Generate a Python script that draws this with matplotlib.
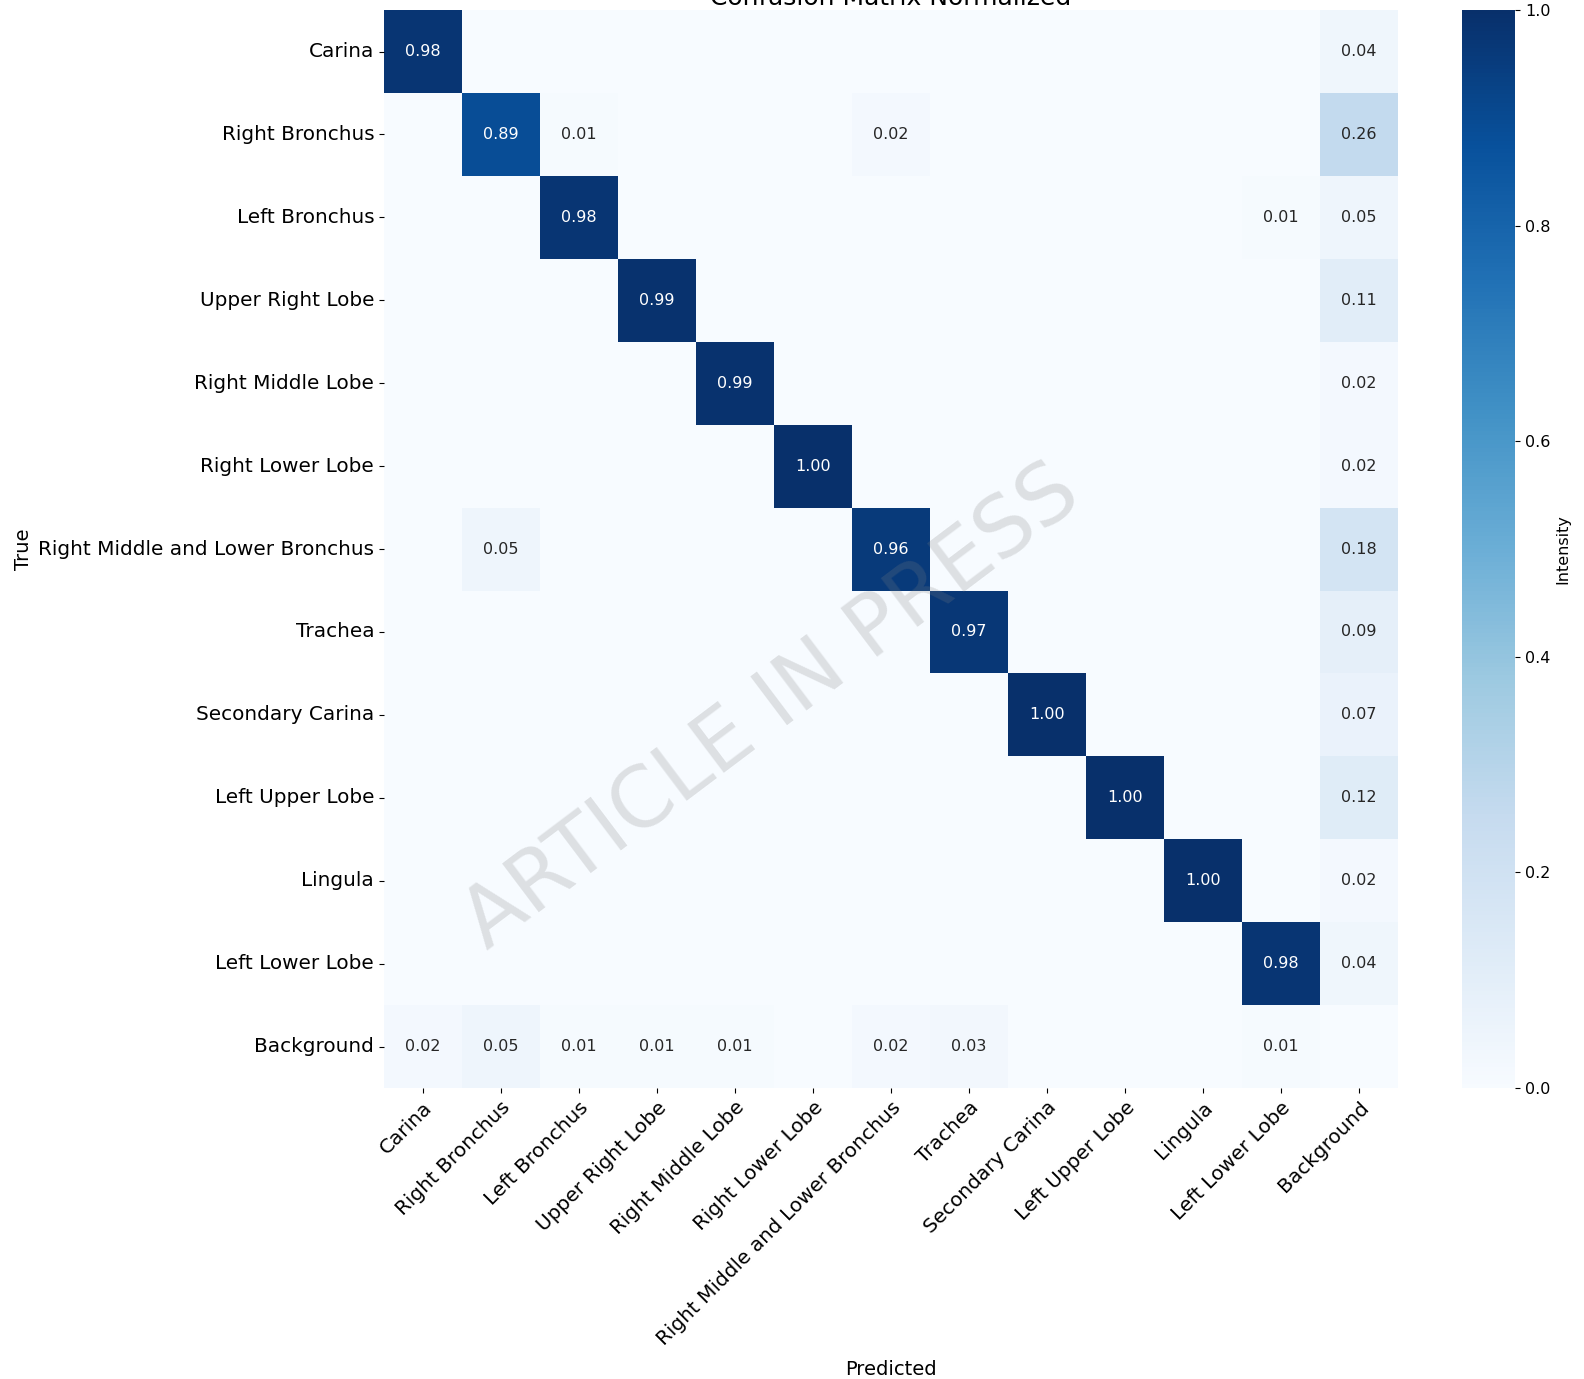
import matplotlib
matplotlib.use("Agg")
import matplotlib.pyplot as plt
import numpy as np
import seaborn as sns

classes = ["Carina", "Right Bronchus", "Left Bronchus", "Upper Right Lobe",
           "Right Middle Lobe", "Right Lower Lobe", "Right Middle and Lower Bronchus",
           "Trachea", "Secondary Carina", "Left Upper Lobe", "Lingula",
           "Left Lower Lobe", "Background"]

# rows = true class, columns = predicted class
row_carina      = [0.98, 0, 0, 0, 0, 0, 0, 0, 0, 0, 0, 0, 0.04]
row_right_br    = [0, 0.89, 0.01, 0, 0, 0, 0.02, 0, 0, 0, 0, 0, 0.26]
row_left_br     = [0, 0, 0.98, 0, 0, 0, 0, 0, 0, 0, 0, 0.01, 0.05]
row_upper_rl    = [0, 0, 0, 0.99, 0, 0, 0, 0, 0, 0, 0, 0, 0.11]
row_right_ml    = [0, 0, 0, 0, 0.99, 0, 0, 0, 0, 0, 0, 0, 0.02]
row_right_ll    = [0, 0, 0, 0, 0, 1.00, 0, 0, 0, 0, 0, 0, 0.02]
row_rmlb        = [0, 0.05, 0, 0, 0, 0, 0.96, 0, 0, 0, 0, 0, 0.18]
row_trachea     = [0, 0, 0, 0, 0, 0, 0, 0.97, 0, 0, 0, 0, 0.09]
row_sec_carina  = [0, 0, 0, 0, 0, 0, 0, 0, 1.00, 0, 0, 0, 0.07]
row_left_ul     = [0, 0, 0, 0, 0, 0, 0, 0, 0, 1.00, 0, 0, 0.12]
row_lingula     = [0, 0, 0, 0, 0, 0, 0, 0, 0, 0, 1.00, 0, 0.02]
row_left_ll     = [0, 0, 0, 0, 0, 0, 0, 0, 0, 0, 0, 0.98, 0.04]
row_background  = [0.02, 0.05, 0.01, 0.01, 0.01, 0, 0.02, 0.03, 0, 0, 0, 0.01, 0]

cm = np.array([row_carina, row_right_br, row_left_br, row_upper_rl, row_right_ml,
               row_right_ll, row_rmlb, row_trachea, row_sec_carina, row_left_ul,
               row_lingula, row_left_ll, row_background])
annot = np.where(cm > 0, np.vectorize(lambda v: f"{v:.2f}")(cm), "")

fig = plt.figure(figsize=(15.84, 13.79), dpi=100)
ax = fig.add_axes([0.2424, 0.211, 0.6402, 0.7817])
cax = fig.add_axes([0.923, 0.211, 0.0335, 0.7817])

sns.heatmap(cm, annot=annot, fmt="", cmap="Blues", vmin=0, vmax=1,
            xticklabels=classes, yticklabels=classes, ax=ax, cbar_ax=cax,
            annot_kws={"fontsize": 11.5},
            cbar_kws={"label": "Intensity", "ticks": [0, 0.2, 0.4, 0.6, 0.8, 1.0]})

ax.set_title("Confusion Matrix Normalized", fontsize=18, pad=4)
ax.set_xlabel("Predicted", fontsize=14, labelpad=8)
ax.set_ylabel("True", fontsize=14)
ax.set_xticklabels(classes, rotation=45, ha="right", rotation_mode="anchor", fontsize=14.4)
ax.set_yticklabels(classes, rotation=0, fontsize=14.4)
cax.tick_params(labelsize=11.5)
cax.yaxis.label.set_size(11.5)
cax.set_yticklabels(["0.0", "0.2", "0.4", "0.6", "0.8", "1.0"])

# watermark
fig.text(0.487, 0.487, "ARTICLE IN PRESS", fontsize=60, color="gray", alpha=0.22,
         rotation=37, ha="center", va="center")

fig.savefig("out.png", dpi=100)
